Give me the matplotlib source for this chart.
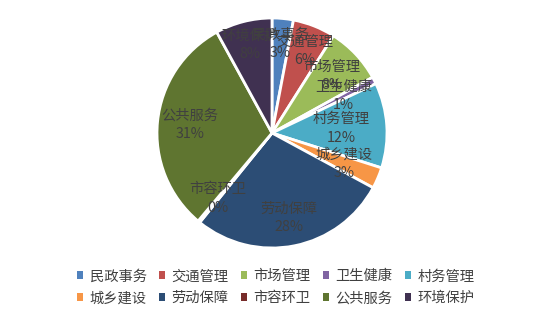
import numpy as np
import matplotlib.pyplot as plt
from matplotlib.patches import Patch

plt.rcParams['font.family'] = ['Noto Sans CJK SC', 'DejaVu Sans']

categories = ['民政事务', '交通管理', '市场管理', '卫生健康', '村务管理',
              '城乡建设', '劳动保障', '市容环卫', '公共服务', '环境保护']
values = [3, 6, 8, 1, 12, 3, 28, 0.3, 31, 8]
pct_labels = ['3%', '6%', '8%', '1%', '12%', '3%', '28%', '0%', '31%', '8%']
colors = ['#4F81BD', '#C0504D', '#9BBB59', '#8064A2', '#4BACC6',
          '#F79646', '#2C4D75', '#772C2A', '#5F7530', '#403151']

# radial distance of each data label (Excel "best fit" spots)
label_r = [0.78, 0.77, 0.72, 0.70, 0.60, 0.68, 0.75, 0.74, 0.72, 0.79]

fig = plt.figure(figsize=(5.46, 3.25), dpi=100)
ax = fig.add_axes([157 / 546, 1 - 248 / 325, 230 / 546, 230 / 325])

wedges, _ = ax.pie(values, colors=colors, startangle=90, counterclock=False,
                   wedgeprops=dict(edgecolor='white', linewidth=2))
ax.set_xlim(-1, 1)
ax.set_ylim(-1, 1)
ax.set_aspect('equal')
ax.axis('off')

total = sum(values)
start = 90.0
for name, v, p, r in zip(categories, values, pct_labels, label_r):
    sweep = 360.0 * v / total
    mid = np.deg2rad(start - sweep / 2)
    start -= sweep
    ax.text(r * np.cos(mid), r * np.sin(mid), name + '\n' + p,
            ha='center', va='center', fontsize=10.3, color='#404040',
            linespacing=1.4)

# legend filled row by row (matplotlib fills columns first)
order = [0, 5, 1, 6, 2, 7, 3, 8, 4, 9]
handles = [Patch(facecolor=colors[i], edgecolor='none') for i in order]
names = [categories[i] for i in order]
fig.legend(handles, names, loc='center', bbox_to_anchor=(0.505, 0.116),
           ncol=5, frameon=False, fontsize=10.3, handlelength=0.45,
           handleheight=0.45, handletextpad=0.45, columnspacing=0.85,
           labelcolor='#404040', borderaxespad=0, labelspacing=0.55)

fig.savefig('out.png', dpi=100)
